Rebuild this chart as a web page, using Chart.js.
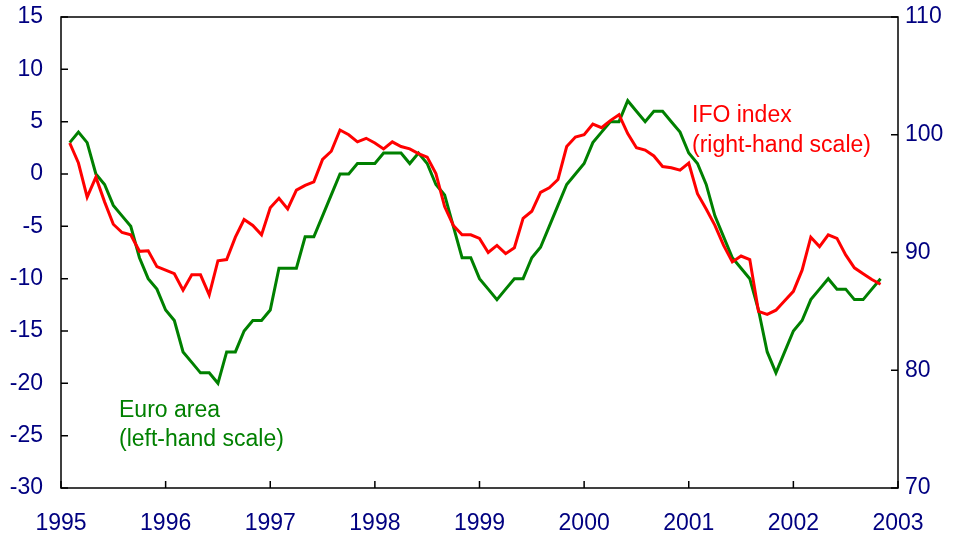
<!DOCTYPE html>
<html><head><meta charset="utf-8">
<script src="https://cdn.jsdelivr.net/npm/chart.js@4/dist/chart.umd.min.js"></script>
<style>html,body{margin:0;padding:0;background:#fff}#wrap{width:960px;height:534px}</style>
</head><body><div id="wrap"><canvas id="c" width="960" height="534"></canvas></div>
<script>
// Monthly observations, Feb 1995 - Nov 2002
const euroArea = [3,4,3,0,-1,-3,-4,-5,-8,-10,-11,-13,-14,-17,-18,-19,-19,-20,-17,-17,-15,-14,-14,-13,
  -9,-9,-9,-6,-6,-4,-2,0,0,1,1,1,2,2,2,1,2,1,-1,-2,-5,-8,-8,-10,
  -11,-12,-11,-10,-10,-8,-7,-5,-3,-1,0,1,3,4,5,5,7,6,5,6,6,5,4,2,
  1,-1,-4,-6,-8,-9,-10,-13,-17,-19,-17,-15,-14,-12,-11,-10,-11,-11,-12,-12,-11,-10];
const ifoIndex = [99.3,97.6,94.7,96.4,94.3,92.4,91.7,91.5,90.1,90.15,88.8,88.5,88.2,86.8,88.1,88.1,86.4,89.3,89.4,91.3,92.8,92.3,91.5,93.8,
  94.6,93.7,95.3,95.7,96.0,97.9,98.6,100.4,100.0,99.4,99.7,99.3,98.8,99.4,99.0,98.8,98.4,98.1,96.7,93.9,92.3,91.5,91.5,91.2,
  90.0,90.6,89.9,90.4,92.9,93.5,95.1,95.5,96.2,99.0,99.8,100.0,100.9,100.6,101.2,101.7,100.1,98.9,98.7,98.2,97.3,97.2,97.0,97.6,
  95.0,93.7,92.3,90.6,89.2,89.7,89.4,85.0,84.75,85.1,85.9,86.7,88.5,91.3,90.5,91.5,91.2,89.8,88.7,88.2,87.7,87.3];
const yearTicks = [1995,1996,1997,1998,1999,2000,2001,2002,2003];
const leftTicks = [-30,-25,-20,-15,-10,-5,0,5,10,15];
const rightTicks = [70,80,90,100,110];
const startYear = 1995, startMonth = 2;
const monthLabels = euroArea.map((_, i) => {
  const m = startMonth - 1 + i;
  return (startYear + Math.floor(m / 12)) + '-' + String(m % 12 + 1).padStart(2, '0');
});
const monthX = monthLabels.map(s => { const [y, m] = s.split('-').map(Number); return y + (m - 1) / 12; });

const navy = '#000080';
const tickFont = { family: '"Liberation Sans", Arial, sans-serif', size: 23 };

const framePlugin = {
  id: 'frame',
  afterDraw(chart) {
    const { ctx, chartArea: a, scales } = chart;
    ctx.save();
    ctx.strokeStyle = '#000';
    ctx.lineWidth = 1.5;
    ctx.strokeRect(a.left, a.top, a.right - a.left, a.bottom - a.top);
    ctx.beginPath();
    leftTicks.forEach(v => { const y = scales.y.getPixelForValue(v); ctx.moveTo(a.left, y); ctx.lineTo(a.left + 7, y); });
    rightTicks.forEach(v => { const y = scales.y2.getPixelForValue(v); ctx.moveTo(a.right - 7, y); ctx.lineTo(a.right, y); });
    yearTicks.forEach(v => { const x = scales.x.getPixelForValue(v); ctx.moveTo(x, a.bottom); ctx.lineTo(x, a.bottom - 7); });
    ctx.stroke();
    ctx.font = '23px "Liberation Sans", Arial, sans-serif';
    ctx.textBaseline = 'alphabetic';
    ctx.textAlign = 'left';
    ctx.fillStyle = '#ff0000';
    ctx.fillText('IFO index', 692, 122);
    ctx.fillText('(right-hand scale)', 692, 152);
    ctx.fillStyle = '#008000';
    ctx.fillText('Euro area', 119, 417);
    ctx.fillText('(left-hand scale)', 119, 446);
    ctx.restore();
  }
};

new Chart(document.getElementById('c'), {
  type: 'line',
  data: {
    datasets: [
      { label: 'IFO index (right-hand scale)', data: monthX.map((x, i) => ({ x, y: ifoIndex[i] })), yAxisID: 'y2',
        borderColor: '#ff0000', borderWidth: 3, pointRadius: 0, tension: 0, order: 0 },
      { label: 'Euro area (left-hand scale)', data: monthX.map((x, i) => ({ x, y: euroArea[i] })), yAxisID: 'y',
        borderColor: '#008000', borderWidth: 3, pointRadius: 0, tension: 0, order: 1 }
    ]
  },
  options: {
    responsive: false, animation: false, devicePixelRatio: 1,
    layout: { padding: { top: 17, left: 0, right: 0, bottom: 0 } },
    plugins: { legend: { display: false }, tooltip: { enabled: false } },
    scales: {
      x: { type: 'linear', position: 'bottom', min: 1995, max: 2003,
        afterBuildTicks: s => { s.ticks = yearTicks.map(v => ({ value: v })); },
        afterFit: s => { s.height = 46; s.paddingLeft = 0; s.paddingRight = 0; },
        grid: { display: false, drawTicks: false }, border: { display: false },
        ticks: { font: tickFont, color: navy, padding: 22, maxRotation: 0, autoSkip: false, callback: v => String(v) } },
      y: { type: 'linear', position: 'left', min: -30, max: 15,
        afterBuildTicks: s => { s.ticks = leftTicks.map(v => ({ value: v })); },
        afterFit: s => { s.width = 61; s.paddingTop = 0; s.paddingBottom = 0; },
        grid: { display: false, drawTicks: false }, border: { display: false },
        ticks: { font: tickFont, color: navy, padding: 18, autoSkip: false, callback: v => String(v) } },
      y2: { type: 'linear', position: 'right', min: 70, max: 110,
        afterBuildTicks: s => { s.ticks = rightTicks.map(v => ({ value: v })); },
        afterFit: s => { s.width = 62; s.paddingTop = 0; s.paddingBottom = 0; },
        grid: { display: false, drawTicks: false }, border: { display: false },
        ticks: { font: tickFont, color: navy, padding: 7, autoSkip: false, callback: v => String(v) } }
    }
  },
  plugins: [framePlugin]
});
</script>
</body></html>
